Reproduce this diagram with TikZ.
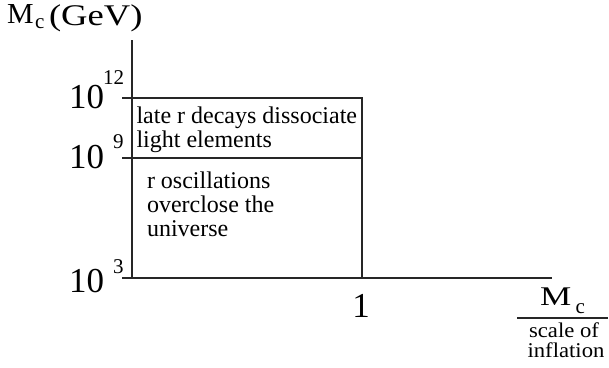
\documentclass[tikz,border=0pt]{standalone}
\usepackage{fontspec}
\usepackage{graphicx}
\setmainfont{Liberation Serif}
\newcommand{\fs}[1]{\fontsize{#1}{#1}\selectfont}
\begin{document}
\begin{tikzpicture}[x=1pt,y=-1pt]
\useasboundingbox (0,0) rectangle (609,367);
\tikzset{
  axis/.style={line width=1.2pt, draw=black!85},
  lbl/.style={inner sep=0pt, outer sep=0pt},
  big/.style={lbl, font=\fs{35}},
  sup/.style={lbl, font=\fs{21}, anchor=base west},
  boxtxt/.style={lbl, font=\fs{24}, anchor=base west},
}
% axes and region lines
\coordinate (ytop) at (132,40);
\coordinate (o) at (132,278);
\coordinate (xend) at (552,278);
\coordinate (t3) at (122,278);
\coordinate (t12) at (122,98);
\coordinate (r12) at (362,98);
\coordinate (t9) at (122,158);
\coordinate (r9) at (362,158);
\coordinate (one) at (362,278);
\draw[axis] (ytop) -- (o);
\draw[axis] (t3) -- (xend);
\draw[axis] (t12) -- (r12) -- (one);
\draw[axis] (t9) -- (r9);

% y axis title
\node[lbl, anchor=base west, font=\fs{29}] (ym) at (7,23) {\scalebox{1.03}[1]{M}};
\node[lbl, anchor=base west, font=\fs{21}] (yc) at (35,28) {c};
\node[lbl, anchor=base west, font=\fs{30}] (yg) at (49,25) {\scalebox{1.22}[1]{(GeV)}};

% tick labels
\node[big, anchor=base east] (ten12) at (104,108) {10};
\node[sup] (e12) at (103,84) {12};
\node[big, anchor=base east] (ten9) at (104,168) {10};
\node[sup] (e9) at (113,148) {9};
\node[big, anchor=base east] (ten3) at (104,292) {10};
\node[sup] (e3) at (113,273) {3};
\node[big, anchor=base] (lone) at (361,317) {1};

% region texts
\node[boxtxt] (a1) at (136.5,123) {late r decays dissociate};
\node[boxtxt] (a2) at (136.5,147) {light elements};
\node[boxtxt] (b1) at (147,188) {r oscillations};
\node[boxtxt] (b2) at (147,212) {overclose the};
\node[boxtxt] (b3) at (147,236) {universe};

% x axis title
\node[lbl, anchor=base west, font=\fs{27}] (xm) at (540,305) {\scalebox{1.3}[1]{M}};
\node[lbl, anchor=base west, font=\fs{21}] (xc) at (575.5,313) {c};
\coordinate (fl) at (517,318);
\coordinate (fr) at (608,318);
\draw[line width=1.1pt, draw=black!85] (fl) -- (fr);
\node[lbl, anchor=base, font=\fs{21}] (s1) at (564,337) {\scalebox{1.08}[1]{scale of}};
\node[lbl, anchor=base, font=\fs{21}] (s2) at (566,357) {\scalebox{1.08}[1]{inflation}};
\end{tikzpicture}
\end{document}
